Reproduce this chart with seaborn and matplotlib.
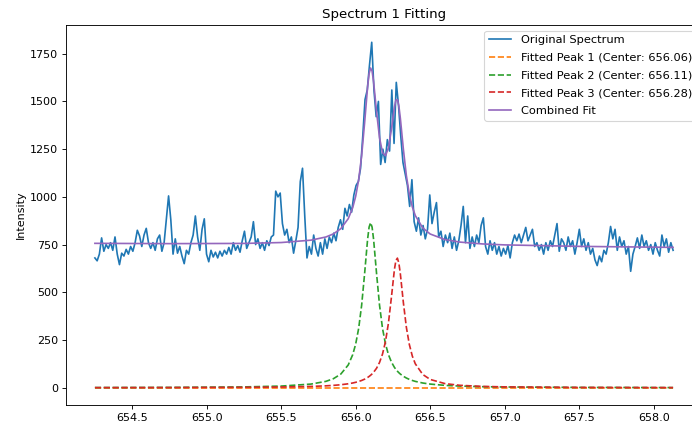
import matplotlib
matplotlib.use("Agg")
import matplotlib.pyplot as plt
import seaborn as sns
import numpy as np

# Spectrum 1: wavelength grid (nm) and measured intensity
wl_start, wl_stop = 654.25, 658.13
intensity = [
    680, 665, 700, 785, 715, 750, 730, 760, 720, 790,
    700, 645, 705, 690, 725, 700, 740, 715, 760, 825,
    795, 740, 800, 835, 760, 730, 760, 720, 780, 800,
    715, 760, 880, 1005, 880, 700, 780, 705, 740, 690,
    650, 720, 700, 760, 800, 900, 790, 720, 830, 885,
    700, 660, 720, 685, 710, 680, 715, 690, 720, 700,
    735, 700, 760, 720, 745, 710, 770, 820, 730, 760,
    790, 870, 750, 780, 730, 760, 720, 770, 745, 790,
    800, 1030, 1000, 1020, 860, 800, 830, 760, 790, 705,
    770, 840, 1080, 1150, 900, 680, 740, 700, 800, 730,
    690, 760, 700, 780, 730, 790, 760, 810, 770, 840,
    880, 830, 940, 900, 960, 920, 1010, 1060, 1080, 1150,
    1320, 1510, 1560, 1690, 1810, 1560, 1420, 1500, 1170, 1250,
    1180, 1300, 1240, 1560, 1280, 1600, 1480, 1320, 1180, 1120,
    1060, 950, 1090, 870, 820, 890, 800, 850, 780, 830,
    1010, 860, 920, 970, 790, 820, 740, 800, 760, 810,
    730, 790, 720, 770, 850, 950, 760, 900, 730, 790,
    740, 800, 760, 850, 890, 740, 700, 770, 720, 760,
    700, 740, 690, 730, 700, 745, 680, 760, 800, 770,
    805, 760, 800, 840, 770, 800, 830, 740, 760, 720,
    750, 700, 760, 720, 770, 740, 800, 860, 715, 780,
    760, 720, 790, 740, 770, 700, 760, 830, 740, 780,
    720, 760, 700, 730, 670, 640, 690, 660, 720, 700,
    760, 845, 780, 830, 720, 790, 740, 770, 700, 740,
    610, 700, 740, 785, 730, 800, 740, 770, 720, 750,
    700, 760, 720, 690, 800, 740, 780, 710, 760, 720,
]
wavelength = np.linspace(wl_start, wl_stop, len(intensity))

fit_wl = [654.25, 654.75, 655.25, 655.5, 655.7, 655.8, 655.85, 655.9, 655.95, 655.98,
          656.0, 656.02, 656.04, 656.06, 656.08, 656.09, 656.10, 656.11, 656.12, 656.14,
          656.16, 656.18, 656.20, 656.22, 656.24, 656.26, 656.27, 656.28, 656.29, 656.30,
          656.32, 656.34, 656.36, 656.38, 656.40, 656.45, 656.5, 656.6, 656.7, 656.85,
          657.0, 657.5, 658.13]
peak1 = [0.0, 0.0, 0.0, 0.0, 0.0, 0.0, 0.0, 0.0, 0.0, 0.0,
         0.0, 0.0, 0.0, 0.0, 0.0, 0.0, 0.0, 0.0, 0.0, 0.0,
         0.0, 0.0, 0.0, 0.0, 0.0, 0.0, 0.0, 0.0, 0.0, 0.0,
         0.0, 0.0, 0.0, 0.0, 0.0, 0.0, 0.0, 0.0, 0.0, 0.0,
         0.0, 0.0, 0.0]
peak2 = [0.9, 1.7, 4.3, 8.6, 19.1, 33.3, 47.1, 71.4, 119.3, 173.0,
         229.0, 311.0, 432.5, 599.0, 778.5, 841.6, 865.0, 841.6, 778.5, 599.0,
         432.5, 311.0, 229.0, 173.0, 134.3, 106.6, 95.8, 86.5, 78.4, 71.4,
         59.9, 50.9, 43.7, 38.0, 33.3, 24.7, 19.1, 12.3, 8.6, 5.5,
         3.8, 1.6, 0.75]
peak3 = [0.56, 0.98, 2.2, 3.8, 6.8, 9.9, 12.3, 15.6, 20.6, 24.8,
         28.4, 32.7, 38.1, 44.9, 53.7, 59.1, 65.3, 72.4, 80.8, 102.0,
         132.3, 176.4, 242.0, 340.0, 475.8, 620.0, 667.0, 679.0, 652.0, 594.5,
         446.0, 317.0, 226.7, 166.0, 125.4, 69.4, 43.4, 21.4, 12.6, 6.9,
         4.4, 1.5, 0.67]
combined = [756.5, 755.0, 756.1, 760.7, 773.1, 789.8, 805.8, 833.1, 885.7, 943.5,
            1003.0, 1089.2, 1216.0, 1389.2, 1577.3, 1645.8, 1675.3, 1659.0, 1604.2, 1445.8,
            1309.5, 1232.0, 1215.5, 1257.4, 1354.4, 1470.8, 1506.9, 1509.6, 1474.4, 1409.9,
            1249.8, 1111.7, 1014.1, 947.6, 902.1, 837.3, 805.4, 776.0, 763.0, 753.4,
            748.4, 740.6, 735.4]
centers = [656.06, 656.11, 656.28]

# figure at 692x427 px; the axes run past the right edge like in the original crop
fig = plt.figure(figsize=(692 / 80, 427 / 80), dpi=80)
ax = fig.add_axes([66 / 692, 22 / 427, 636 / 692, 380 / 427])

sns.lineplot(x=wavelength, y=intensity, ax=ax, color="C0", label="Original Spectrum")
for i, (peak, c) in enumerate(zip([peak1, peak2, peak3], centers)):
    sns.lineplot(x=fit_wl, y=peak, ax=ax, color=f"C{i + 1}", linestyle="--",
                 label=f"Fitted Peak {i + 1} (Center: {c:.2f})")
sns.lineplot(x=fit_wl, y=combined, ax=ax, color="C4", label="Combined Fit")

ax.set_title("Spectrum 1 Fitting")
ax.set_ylabel("Intensity")
ax.legend(loc="upper right", labelspacing=0.68, fontsize=10.2)

fig.savefig("out.png", dpi=80, facecolor="white")
plt.close(fig)
